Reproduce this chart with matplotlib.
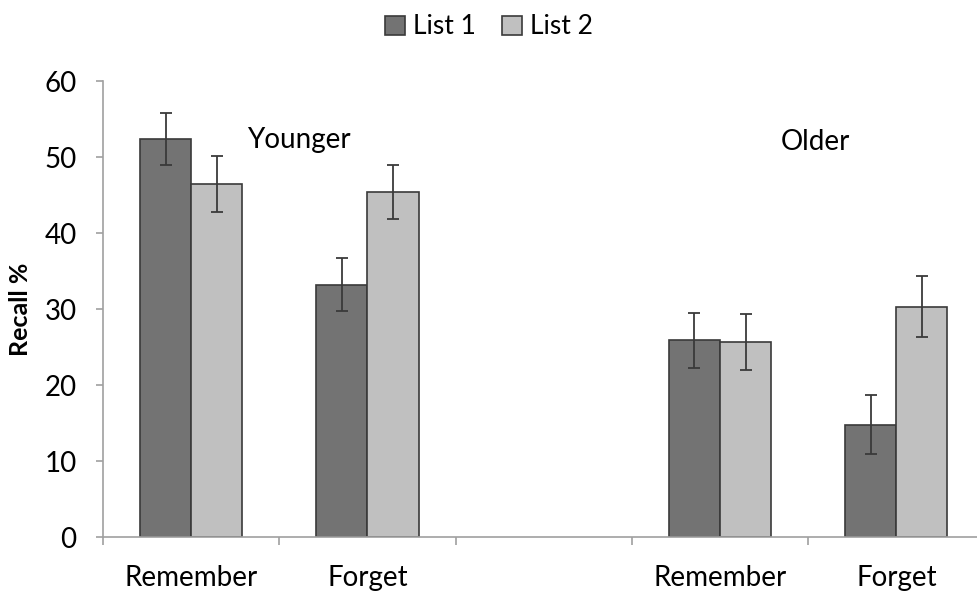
import numpy as np
import matplotlib.pyplot as plt

plt.rcParams['font.family'] = ['Lato', 'DejaVu Sans']

categories = ['Remember', 'Forget', '', 'Remember', 'Forget']
list1 = [52.4, 33.2, np.nan, 25.9, 14.8]
list2 = [46.4, 45.4, np.nan, 25.7, 30.3]
err1 = [3.4, 3.5, np.nan, 3.6, 3.9]
err2 = [3.7, 3.6, np.nan, 3.7, 4.0]
groups = ['Younger', 'Older']

fig = plt.figure(figsize=(9.78, 6.0), dpi=100)
# axes runs a little past the right edge, like the original
ax = fig.add_axes([103 / 978, 63 / 600, 881.5 / 978, 456 / 600])

x = np.arange(len(categories))
w = 0.29
dark = '#737373'
light = '#c0c0c0'
edge = '#3a3a3a'

ax.bar(x - w / 2, list1, w, color=dark, edgecolor=edge, linewidth=1.2, label='List 1')
ax.bar(x + w / 2, list2, w, color=light, edgecolor=edge, linewidth=1.2, label='List 2')
ax.errorbar(x - w / 2, list1, yerr=err1, fmt='none', ecolor='#3a3a3a', elinewidth=1.3, capsize=4, capthick=1.3)
ax.errorbar(x + w / 2, list2, yerr=err2, fmt='none', ecolor='#3a3a3a', elinewidth=1.3, capsize=4, capthick=1.3)

ax.text(0.61, 52.3, groups[0], ha='center', va='center', fontsize=20)
ax.text(3.54, 52.0, groups[1], ha='center', va='center', fontsize=20)

ax.set_xlim(-0.5, len(categories) - 0.5)
ax.set_ylim(0, 60)
ax.set_yticks(range(0, 61, 10))
ax.set_xticks(np.arange(len(categories) + 1) - 0.5, minor=False)
ax.set_xticklabels([])
ax.set_xticks(x, minor=True)
ax.set_xticklabels(categories, minor=True)
ax.tick_params(axis='x', which='minor', length=0, pad=20, labelsize=20)
ax.tick_params(axis='x', which='major', length=6, direction='out', color='#a0a0a0', width=1.2)
ax.tick_params(axis='y', length=5, color='#a0a0a0', width=1.2, labelsize=20, pad=14)

for s in ['top', 'right']:
    ax.spines[s].set_visible(False)
for s in ['left', 'bottom']:
    ax.spines[s].set_color('#a0a0a0')
    ax.spines[s].set_linewidth(1.2)

ax.set_ylabel('Recall %', fontsize=18, fontweight='bold', labelpad=9)

fig.legend(loc='center', bbox_to_anchor=(0.5, 1 - 27 / 600), ncol=2, frameon=False,
           fontsize=19, handlelength=0.75, handleheight=0.75, handletextpad=0.3, columnspacing=1.0)

fig.savefig('out.png', dpi=100)
